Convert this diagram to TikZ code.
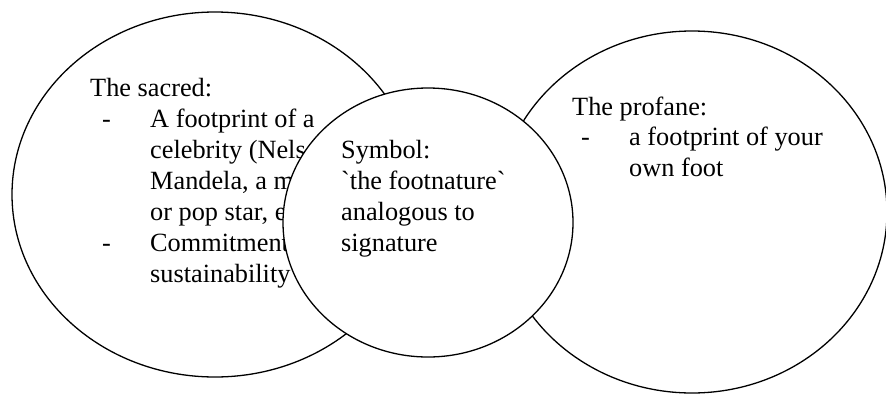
\documentclass[tikz,border=0pt]{standalone}
\usepackage{fontspec}
\setmainfont{Liberation Serif}[Ligatures=TeXOff]
\usetikzlibrary{shapes.geometric}

\begin{document}
\begin{tikzpicture}[x=1pt,y=-1pt,
  blob/.style={ellipse,draw,line width=1.3pt,fill=white,inner sep=0pt},
  txt/.style={anchor=base west,inner sep=0pt,font=\fontsize{26.3}{30.8}\selectfont}]
  \useasboundingbox (0,0) rectangle (886,394);
  \clip (0,0) rectangle (886,394);

  % the sacred
  \node[blob,minimum width=406pt,minimum height=365pt] (sacred) at (215,194.5) {};
  \node[txt] (sa0) at (90,96)   {The sacred:};
  \node[txt] (da1) at (102,127) {-};
  \node[txt] (sa1) at (150,127) {A footprint of a};
  \node[txt] (sa2) at (150,158) {celebrity (Nelson};
  \node[txt] (sa3) at (150,189) {Mandela, a movie};
  \node[txt] (sa4) at (150,220) {or pop star, etc.)};
  \node[txt] (da2) at (102,251) {-};
  \node[txt] (sa5) at (150,251) {Commitment to};
  \node[txt] (sa6) at (150,282) {sustainability};

  % the profane
  \node[blob,minimum width=390pt,minimum height=362pt] (profane) at (692,212) {};
  \node[txt] (pr0) at (572,115) {The profane:};
  \node[txt] (da3) at (581,145) {-};
  \node[txt] (pr1) at (629,145) {a footprint of your};
  \node[txt] (pr2) at (629,176) {own foot};

  % the symbol, on top
  \node[blob,minimum width=290pt,minimum height=269pt] (symbol) at (428,222.5) {};
  \node[txt] (sy0) at (341,158) {Symbol:};
  \node[txt] (sy1) at (341,189) {`the footnature`};
  \node[txt] (sy2) at (341,220) {analogous to};
  \node[txt] (sy3) at (341,251) {signature};
\end{tikzpicture}
\end{document}
